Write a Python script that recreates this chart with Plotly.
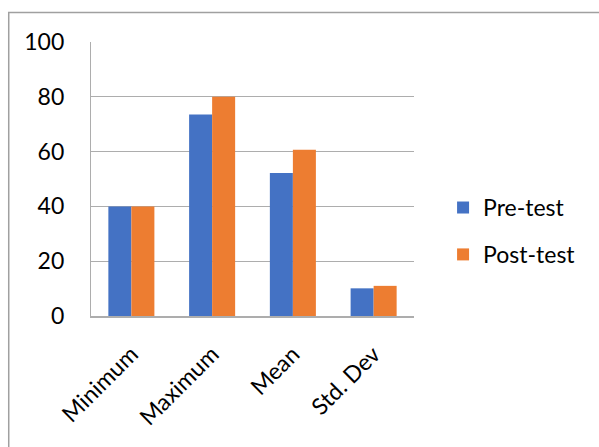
import plotly.graph_objects as go

categories = ["Minimum", "Maximum", "Mean", "Std. Dev"]
pre_test = [40, 73.5, 52.2, 10.1]
post_test = [40, 80, 60.7, 11.0]

BLUE = "#4472C4"
ORANGE = "#ED7D31"
GRID = "#ADADAD"
FONT = "Lato"

fig = go.Figure()
fig.add_trace(go.Bar(name="Pre-test", x=categories, y=pre_test,
                     marker=dict(color=BLUE, line=dict(width=0)),
                     legendgroup="a"))
fig.add_trace(go.Bar(name="Post-test", x=categories, y=post_test,
                     marker=dict(color=ORANGE, line=dict(width=0)),
                     legendgroup="b"))

fig.update_layout(
    width=599, height=447,
    margin=dict(l=90.5, r=184.6, t=41.7, b=130.7, pad=0),
    paper_bgcolor="white", plot_bgcolor="white",
    barmode="group", bargap=0.43, bargroupgap=0,
    font=dict(family=FONT, size=23, color="#000000"),
    showlegend=True,
    legend=dict(x=1.09, y=0.31, xanchor="left", yanchor="middle",
                font=dict(size=23), tracegroupgap=14,
                bgcolor="rgba(0,0,0,0)", itemwidth=30),
    xaxis=dict(showgrid=False, showline=True, linecolor=GRID, linewidth=1.5,
               tickangle=-45, ticks="", ticklabelstandoff=14,
               tickfont=dict(size=23)),
    yaxis=dict(range=[0, 100], dtick=20, showgrid=True, gridcolor=GRID,
               gridwidth=1.2, showline=True, linecolor=GRID, linewidth=1.2,
               ticks="", ticklabelstandoff=21, zeroline=False,
               tickfont=dict(size=23)),
    shapes=[dict(type="rect", xref="paper", yref="paper",
                 x0=-0.2547, x1=2.0, y0=-1.0, y1=1.108,
                 line=dict(color="#A0A0A0", width=1.5), layer="below")],
)

fig.write_html("out.html")
